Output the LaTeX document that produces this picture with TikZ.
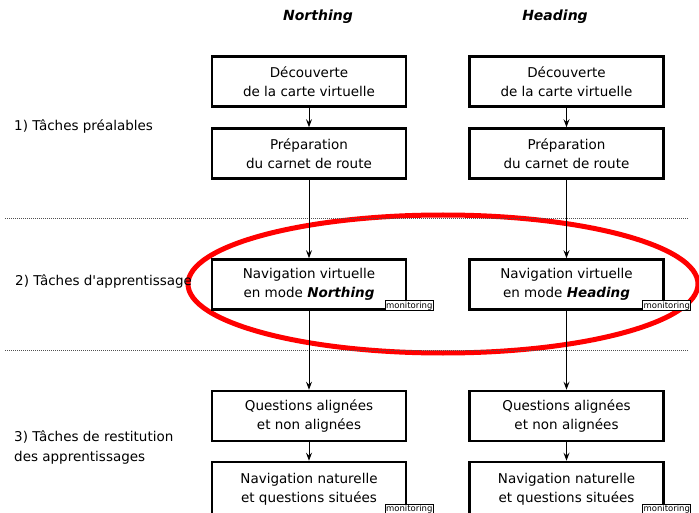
\documentclass[tikz,border=0pt]{standalone}
\usepackage{fontspec}
\setmainfont{DejaVu Sans}
\usepackage{tikz}
\usetikzlibrary{positioning,arrows.meta,calc}
\definecolor{ovalcol}{HTML}{FF0000}
\definecolor{sepcol}{HTML}{505050}
\newcommand{\montag}[2]{% #1 name of the task box, #2 lift above its bottom edge
  \node[tag] (#1-mon) at ([shift={(2,-#2)}]#1.south east) {monitoring};
}

\begin{document}
\begin{tikzpicture}[x=1pt,y=-1pt,
    every node/.style={font=\fontsize{13.5}{19}\selectfont},
    task/.style={draw,line width=2.6pt,minimum width=194pt,minimum height=50pt,inner sep=0pt,align=center,fill=white},
    tag/.style={draw,line width=0.8pt,fill=white,inner sep=0.8pt,font=\fontsize{8.5}{9}\selectfont},
    title/.style={font=\fontsize{14}{16}\selectfont\bfseries\itshape},
    phase/.style={anchor=west,align=left,inner sep=0pt,font=\fontsize{13.5}{20}\selectfont},
    flow/.style={-{Stealth[length=8pt,width=6pt,inset=3pt]},line width=0.9pt},
    sep/.style={sepcol,densely dotted,line width=1pt}]
  \useasboundingbox (0,0) rectangle (699,513);
  \clip (0,0) rectangle (699,513);

  % highlight oval behind the learning tasks
  \coordinate (oval) at (443,284);
  \draw[ovalcol,line width=5pt] (oval) ellipse [x radius=255pt,y radius=69pt];

  % separators
  \coordinate (s1a) at (5,219);  \coordinate (s1b) at (688,219);
  \coordinate (s2a) at (5,350);  \coordinate (s2b) at (688,350);
  \draw[sep] (s1a) -- (s1b);
  \draw[sep] (s2a) -- (s2b);

  % column titles
  \node[title] (tN) at (318,17) {Northing};
  \node[title] (tH) at (555,17) {Heading};

  % phase labels
  \node[phase] (p1) at (14,127) {1) Tâches préalables};
  \node[phase] (p2) at (15,282) {2) Tâches d\textquotesingle apprentissage};
  \node[phase] (p3) at (14,448) {3) Tâches de restitution\\des apprentissages};

  % Northing column
  \node[task] (n1) at (309,81.5) {Découverte\\de la carte virtuelle};
  \node[task] (n2) at (309,153.5) {Préparation\\du carnet de route};
  \node[task] (n3) at (309,284.5) {Navigation virtuelle\\en mode \textbf{\textit{Northing}}};
  \node[task] (n4) at (309,416) {Questions alignées\\et non alignées};
  \node[task,minimum height=54pt] (n5) at (309,489) {Navigation naturelle\\et questions situées};

  % Heading column
  \node[task] (h1) at (566.5,81.5) {Découverte\\de la carte virtuelle};
  \node[task] (h2) at (566.5,153.5) {Préparation\\du carnet de route};
  \node[task] (h3) at (566.5,284.5) {Navigation virtuelle\\en mode \textbf{\textit{Heading}}};
  \node[task] (h4) at (566.5,416) {Questions alignées\\et non alignées};
  \node[task,minimum height=54pt] (h5) at (566.5,489) {Navigation naturelle\\et questions situées};

  \foreach \c in {n,h}{
    \draw[flow] (\c1) -- (\c2);
    \draw[flow] (\c2) -- (\c3);
    \draw[flow] (\c3) -- (\c4);
    \draw[flow] (\c4) -- (\c5);
  }

  \montag{n3}{5} \montag{h3}{5}
  \montag{n5}{8} \montag{h5}{8}
\end{tikzpicture}
\end{document}
